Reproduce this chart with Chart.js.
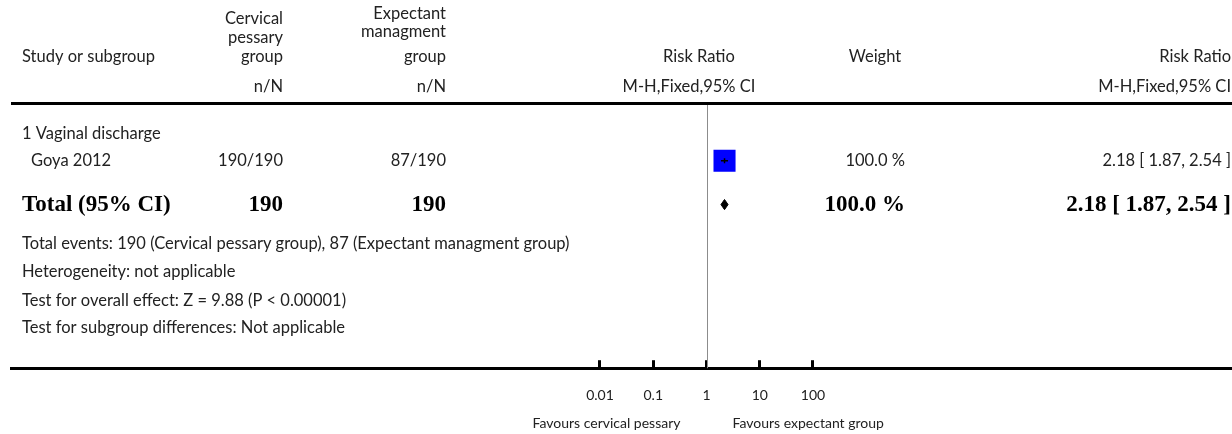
<!DOCTYPE html>
<html>
<head>
<meta charset="utf-8">
<script src="https://cdn.jsdelivr.net/npm/chart.js@4/dist/chart.umd.min.js"></script>
<style>
html, body { margin: 0; padding: 0; background: #ffffff; }
#wrap { width: 1232px; height: 434px; }
</style>
</head>
<body>
<div id="wrap"><canvas id="c" width="1232" height="434"></canvas></div>
<script>
// ---------------- DATA ----------------
const subgroupTitles = ['1 Vaginal discharge'];
const studyNames = ['Goya 2012'];
const pessaryEvents = [190];
const pessaryTotals = [190];
const expectantEvents = [87];
const expectantTotals = [190];
const studyRR = [2.18];
const studyLow = [1.87];
const studyHigh = [2.54];
const studyWeight = [100.0];

const totalLabel = 'Total (95% CI)';
const totalPessary = [190];
const totalExpectant = [190];
const totalRR = [2.18];
const totalLow = [1.87];
const totalHigh = [2.54];
const totalWeight = [100.0];

const footerLines = [
  'Total events: 190 (Cervical pessary group), 87 (Expectant managment group)',
  'Heterogeneity: not applicable',
  'Test for overall effect: Z = 9.88 (P < 0.00001)',
  'Test for subgroup differences: Not applicable'
];

const tickValues = [0.01, 0.1, 1, 10, 100];
const tickLabels = ['0.01', '0.1', '1', '10', '100'];
const favoursLeft = 'Favours cervical pessary';
const favoursRight = 'Favours expectant group';

const headerStudy = 'Study or subgroup';
const headerPessary = ['Cervical', 'pessary', 'group'];
const headerExpectant = ['Expectant', 'managment', 'group'];
const headerNN = 'n/N';
const headerRR = 'Risk Ratio';
const headerMethod = 'M-H,Fixed,95% CI';
const headerWeight = 'Weight';

// ---------------- LAYOUT ----------------
const W = 1232, H = 434;
const PLOT_LEFT = 11;          // left end of the rules
const ONE_PX = 706.5;          // pixel of RR = 1
const DECADE_PX = 53.25;       // pixels per decade
const TOP_RULE = 103;          // header rule
const ROW_PX = 28.3;
const Y_MAX = (369 - TOP_RULE) / ROW_PX;
const ROW = {
  pess1: -3.0, pess2: -2.33, head: -1.63,
  exp1: -3.18, exp2: -2.54,
  nn: -0.57,
  subgroup: 1.10, study: 2.05, total: 3.60,
  footer: [4.98, 5.97, 6.99, 7.98]
};
const COL = {
  study: 22, indent: 31, pessary: 283, expectant: 446,
  rrHead: 699, method: 689, weightHead: 875, weight: 905, rr: 1231
};
const DIAMOND_HALF = 0.18;
const SQUARE_MAX_RADIUS = 15.6;
const FAVOURS_GAP = 26;
const FAVOURS_DY = 55;

const FONT = 'Lato';
const SERIF = '"Liberation Serif"';
const TXT = '#222222';
const MAIN_FONT = '16.5px ' + FONT;
const SMALL_FONT = '14px ' + FONT;
const BOLD_FONT = 'bold 23px ' + SERIF;

function fmtCI(r, l, h) {
  return r.toFixed(2) + ' [ ' + l.toFixed(2) + ', ' + h.toFixed(2) + ' ]';
}
function fmtW(w) { return w.toFixed(1) + ' %'; }

// ---------------- DATASETS ----------------
const datasets = [];
// point-estimate tick (drawn on top)
studyNames.forEach((n, i) => {
  datasets.push({
    type: 'scatter',
    data: [{ x: studyRR[i], y: ROW.study }],
    pointStyle: 'line', rotation: 90,
    pointRadius: 2.5, pointHoverRadius: 2.5,
    borderColor: '#000000', borderWidth: 1.5, backgroundColor: '#000000', order: 0
  });
});
// confidence interval lines
studyNames.forEach((n, i) => {
  datasets.push({
    type: 'line',
    data: [{ x: studyLow[i], y: ROW.study }, { x: studyHigh[i], y: ROW.study }],
    borderColor: '#000000', borderWidth: 1.5, pointRadius: 0, fill: false, order: 1
  });
});
// weighted squares
studyNames.forEach((n, i) => {
  datasets.push({
    type: 'scatter',
    data: [{ x: studyRR[i], y: ROW.study }],
    pointStyle: 'rect',
    pointRadius: SQUARE_MAX_RADIUS * Math.sqrt(studyWeight[i] / 100),
    pointHoverRadius: SQUARE_MAX_RADIUS * Math.sqrt(studyWeight[i] / 100),
    backgroundColor: '#0000ff', borderWidth: 0, order: 2
  });
});
// pooled diamond
totalRR.forEach((r, i) => {
  datasets.push({
    type: 'line',
    data: [
      { x: totalLow[i], y: ROW.total },
      { x: r, y: ROW.total - DIAMOND_HALF },
      { x: totalHigh[i], y: ROW.total },
      { x: r, y: ROW.total + DIAMOND_HALF },
      { x: totalLow[i], y: ROW.total }
    ],
    borderColor: '#000000', backgroundColor: '#000000', borderWidth: 1,
    pointRadius: 0, tension: 0, fill: 'shape', order: 3
  });
});

// ---------------- PLUGIN ----------------
const forestPlugin = {
  id: 'forest',
  beforeDatasetsDraw(chart) {
    const { ctx, chartArea, scales } = chart;
    const x1 = Math.round(scales.x.getPixelForValue(1)) + 0.5;
    ctx.save();
    ctx.strokeStyle = '#8c8c8c';
    ctx.lineWidth = 1;
    ctx.beginPath();
    ctx.moveTo(x1, chartArea.top);
    ctx.lineTo(x1, chartArea.bottom);
    ctx.stroke();
    ctx.restore();
  },
  afterDraw(chart) {
    const { ctx, chartArea, scales } = chart;
    const y = (v) => scales.y.getPixelForValue(v);
    const xs = scales.x;
    ctx.save();
    // header rule
    ctx.strokeStyle = '#000000';
    ctx.lineWidth = 3;
    ctx.beginPath();
    ctx.moveTo(chartArea.left, chartArea.top + 0.5);
    ctx.lineTo(chartArea.right, chartArea.top + 0.5);
    ctx.stroke();

    const txt = (s, x, yy, align, font) => {
      ctx.font = font || MAIN_FONT;
      ctx.fillStyle = font === BOLD_FONT ? '#000000' : TXT;
      ctx.textAlign = align;
      ctx.textBaseline = 'middle';
      ctx.fillText(s, x, yy);
    };
    // headers
    txt(headerStudy, COL.study, y(ROW.head), 'left');
    [ROW.pess1, ROW.pess2, ROW.head].forEach((r, i) => txt(headerPessary[i], COL.pessary, y(r), 'right'));
    [ROW.exp1, ROW.exp2, ROW.head].forEach((r, i) => txt(headerExpectant[i], COL.expectant, y(r), 'right'));
    txt(headerNN, COL.pessary, y(ROW.nn), 'right');
    txt(headerNN, COL.expectant, y(ROW.nn), 'right');
    txt(headerRR, COL.rrHead, y(ROW.head), 'center');
    txt(headerMethod, COL.method, y(ROW.nn), 'center');
    txt(headerWeight, COL.weightHead, y(ROW.head), 'center');
    txt(headerRR, COL.rr, y(ROW.head), 'right');
    txt(headerMethod, COL.rr, y(ROW.nn), 'right');

    // subgroup + studies
    subgroupTitles.forEach((t) => txt(t, COL.study, y(ROW.subgroup), 'left'));
    studyNames.forEach((n, i) => {
      const yy = y(ROW.study);
      txt(n, COL.indent, yy, 'left');
      txt(pessaryEvents[i] + '/' + pessaryTotals[i], COL.pessary, yy, 'right');
      txt(expectantEvents[i] + '/' + expectantTotals[i], COL.expectant, yy, 'right');
      txt(fmtW(studyWeight[i]), COL.weight, yy, 'right');
      txt(fmtCI(studyRR[i], studyLow[i], studyHigh[i]), COL.rr, yy, 'right');
    });
    // total
    const yt = y(ROW.total);
    txt(totalLabel, COL.study, yt, 'left', BOLD_FONT);
    txt(String(totalPessary[0]), COL.pessary, yt, 'right', BOLD_FONT);
    txt(String(totalExpectant[0]), COL.expectant, yt, 'right', BOLD_FONT);
    txt(fmtW(totalWeight[0]), COL.weight, yt, 'right', BOLD_FONT);
    txt(fmtCI(totalRR[0], totalLow[0], totalHigh[0]), COL.rr, yt, 'right', BOLD_FONT);
    // footer
    footerLines.forEach((l, i) => txt(l, COL.study, y(ROW.footer[i]), 'left'));
    // favours
    const p1 = xs.getPixelForValue(1);
    const fy = xs.top + FAVOURS_DY;
    txt(favoursLeft, p1 - FAVOURS_GAP, fy, 'right', SMALL_FONT);
    txt(favoursRight, p1 + FAVOURS_GAP, fy, 'left', SMALL_FONT);
    ctx.restore();
  }
};

function build() {
  new Chart(document.getElementById('c'), {
    data: { datasets },
    options: {
      responsive: false,
      devicePixelRatio: 1,
      animation: false,
      events: [],
      layout: { autoPadding: false, padding: { left: PLOT_LEFT, right: 0, top: TOP_RULE, bottom: 3 } },
      plugins: { legend: { display: false }, tooltip: { enabled: false }, title: { display: false } },
      scales: {
        x: {
          type: 'logarithmic',
          position: 'bottom',
          min: Math.pow(10, (PLOT_LEFT - ONE_PX) / DECADE_PX),
          max: Math.pow(10, (W - ONE_PX) / DECADE_PX),
          afterBuildTicks: (s) => { s.ticks = tickValues.map((v) => ({ value: v })); },
          afterFit: (s) => { s.paddingLeft = 0; s.paddingRight = 0; },
          border: { display: true, color: '#000000', width: 3 },
          grid: { display: true, drawOnChartArea: false, drawTicks: true, tickLength: -8, color: '#000000', lineWidth: 3 },
          ticks: {
            autoSkip: false, maxRotation: 0, padding: 27,
            color: TXT, font: { family: FONT, size: 14 },
            callback: (v) => { const k = tickValues.indexOf(v); return k >= 0 ? tickLabels[k] : ''; }
          }
        },
        y: { type: 'linear', display: false, reverse: true, min: 0, max: Y_MAX }
      }
    },
    plugins: [forestPlugin]
  });
}
if (document.fonts && document.fonts.load) {
  Promise.all([
    document.fonts.load(MAIN_FONT),
    document.fonts.load(BOLD_FONT)
  ]).then(build, build);
} else { build(); }
</script>
</body>
</html>
